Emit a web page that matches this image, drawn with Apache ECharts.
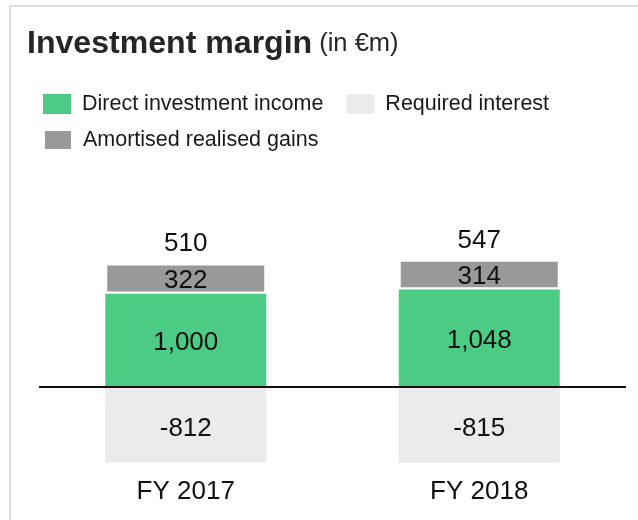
<!DOCTYPE html>
<html>
<head>
<meta charset="utf-8">
<script src="https://cdn.jsdelivr.net/npm/echarts@6/dist/echarts.min.js"></script>
<style>
html,body{margin:0;padding:0;background:#ffffff;}
#chart{width:638px;height:520px;}
</style>
</head>
<body>
<div id="chart"></div>
<script>
var categories = ['FY 2017', 'FY 2018'];
var directIncome = [1000, 1048];
var amortisedGains = [322, 314];
var requiredInterest = [-812, -815];
var totals = [510, 547];

var FONT = 'Liberation Sans, Arial, Helvetica, sans-serif';
var fmt = function (v) { return v.toLocaleString('en-US'); };
var stackTop = directIncome.map(function (v, i) { return v + amortisedGains[i]; });

var chart = echarts.init(document.getElementById('chart'), null, {renderer: 'canvas'});
chart.setOption({
  backgroundColor: '#ffffff',
  animation: false,
  textStyle: {fontFamily: FONT},
  title: {
    text: '{b|Investment margin}{s| }{n|(in €m)}',
    left: 22, top: 23,
    textStyle: {
      rich: {
        b: {fontFamily: FONT, fontSize: 32.1, fontWeight: 'bold', color: '#262626'},
        s: {fontFamily: FONT, fontSize: 25.5, fontWeight: 'normal', width: 7},
        n: {fontFamily: FONT, fontSize: 25.5, fontWeight: 'normal', color: '#262626'}
      }
    }
  },
  graphic: [{
    type: 'polyline',
    shape: {points: [[10, 520], [10, 6], [638, 6]]},
    style: {stroke: '#dedede', lineWidth: 2, fill: null},
    silent: true
  }],
  legend: [{
    data: ['Direct investment income', 'Required interest'],
    left: 43, top: 93, padding: 0, itemWidth: 28, itemHeight: 20, itemGap: 23, icon: 'rect',
    textStyle: {fontFamily: FONT, fontSize: 21.5, color: '#1a1a1a', padding: [0, 0, 0, 6]}
  }, {
    data: ['Amortised realised gains'],
    left: 43, top: 129, padding: 0, itemWidth: 28, itemHeight: 20, icon: 'rect',
    textStyle: {fontFamily: FONT, fontSize: 21.5, color: '#1a1a1a', padding: [0, 0, 0, 6]}
  }],
  grid: {left: 39, right: 12, top: 247, bottom: 40, containLabel: false},
  xAxis: {
    type: 'category', data: categories,
    axisLine: {show: false, onZero: false}, axisTick: {show: false},
    axisLabel: {fontFamily: FONT, fontSize: 26, color: '#111', margin: -1}
  },
  yAxis: {
    type: 'value', min: -1000, max: 1500,
    show: false, splitLine: {show: false}
  },
  series: [{
    name: 'Direct investment income', type: 'bar', stack: 'a', data: directIncome,
    barWidth: 161,
    itemStyle: {color: '#4ccb85'},
    label: {show: true, position: 'inside', fontFamily: FONT, fontSize: 26, color: '#111', offset: [0, 3],
      formatter: function (p) { return fmt(p.value); }},
    markLine: {
      silent: true, symbol: 'none', label: {show: false},
      lineStyle: {color: '#111', width: 2, type: 'solid'},
      data: [{yAxis: 0}]
    }
  }, {
    name: 'Amortised realised gains', type: 'bar', stack: 'a', data: amortisedGains,
    barWidth: 161,
    itemStyle: {color: '#999999', borderColor: '#ffffff', borderWidth: 2},
    label: {show: true, position: 'inside', fontFamily: FONT, fontSize: 26, color: '#111', offset: [0, 2]}
  }, {
    name: 'Required interest', type: 'bar', stack: 'a', data: requiredInterest,
    barWidth: 161,
    itemStyle: {color: '#ebebeb'},
    label: {show: true, position: 'inside', fontFamily: FONT, fontSize: 26, color: '#111', offset: [0, 4]}
  }, {
    name: 'Total', type: 'scatter', data: stackTop, symbolSize: 1,
    itemStyle: {color: '#ffffff', opacity: 1},
    label: {show: true, position: 'top', distance: 6, fontFamily: FONT, fontSize: 26, color: '#111',
      formatter: function (p) { return fmt(totals[p.dataIndex]); }}
  }]
});
</script>
</body>
</html>
